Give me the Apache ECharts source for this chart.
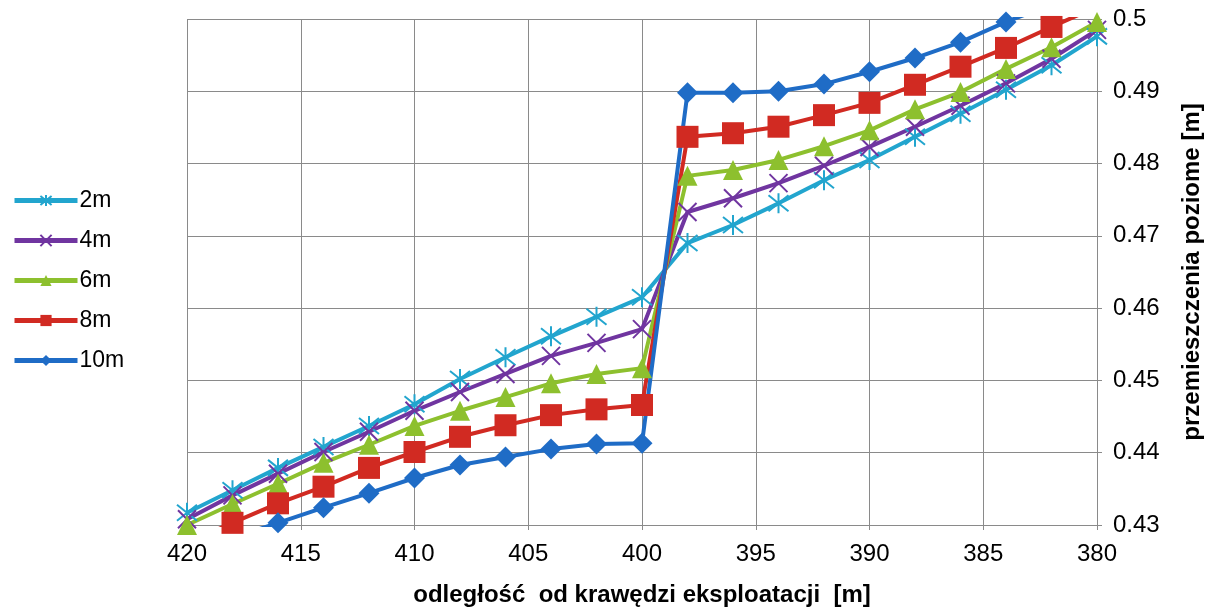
<!DOCTYPE html>
<html>
<head>
<meta charset="utf-8">
<script src="https://cdn.jsdelivr.net/npm/echarts@6/dist/echarts.min.js"></script>
<style>
html,body{margin:0;padding:0;background:#fff;}
#chart{width:1208px;height:607px;}
</style>
</head>
<body>
<div id="chart"></div>
<script>
const xValues = [420,418,416,414,412,410,408,406,404,402,400,398,396,394,392,390,388,386,384,382,380];
const seriesNames = ['2m','4m','6m','8m','10m'];
const s2m  = [0.4317,0.4348,0.4379,0.4408,0.4437,0.4467,0.4502,0.4532,0.4561,0.4588,0.4615,0.4690,0.4715,0.4745,0.4777,0.4805,0.4837,0.4869,0.4902,0.4936,0.4976];
const s4m  = [0.4308,0.4341,0.4371,0.4401,0.4429,0.4458,0.4484,0.4509,0.4534,0.4552,0.4571,0.4733,0.4752,0.4773,0.4797,0.4823,0.4851,0.4880,0.4911,0.4945,0.4985];
const s6m  = [0.4300,0.4329,0.4357,0.4386,0.4411,0.4437,0.4458,0.4477,0.4496,0.4509,0.4517,0.4783,0.4791,0.4805,0.4824,0.4846,0.4875,0.4899,0.4931,0.4961,0.4996];
const s8m  = [0.4275,0.4303,0.4330,0.4353,0.4379,0.4401,0.4422,0.4438,0.4452,0.4460,0.4466,0.4837,0.4842,0.4851,0.4867,0.4884,0.4909,0.4934,0.4960,0.4989,0.5017];
const s10m = [0.4260,0.4282,0.4303,0.4324,0.4344,0.4365,0.4383,0.4394,0.4405,0.4412,0.4413,0.4898,0.4898,0.4900,0.4910,0.4927,0.4946,0.4968,0.4996,0.5020,0.5045];
const yTicks = ['0.43','0.44','0.45','0.46','0.47','0.48','0.49','0.5'];

const colors = ['#22A5CE','#7035A0','#8DC02E','#D12A22','#1F6CC6'];
const symbols = [
  'path://M2,2L18,18M18,2L2,18M10,0L10,20',
  'path://M2,2L18,18M18,2L2,18',
  'triangle',
  'rect',
  'diamond'
];
const sizes = [20, 18, 20, 22, 21];
const allData = [s2m, s4m, s6m, s8m, s10m];

const series = allData.map((vals, i) => ({
  name: seriesNames[i],
  type: 'line',
  data: xValues.map((x, j) => [x, vals[j]]),
  symbol: symbols[i],
  symbolSize: sizes[i],
  showAllSymbol: true,
  clip: true,
  lineStyle: { color: colors[i], width: 4 },
  itemStyle: { color: colors[i], borderColor: colors[i], borderWidth: i < 2 ? 2 : 0 },
  emphasis: { disabled: true },
  animation: false
}));

const chart = echarts.init(document.getElementById('chart'));
chart.setOption({
  backgroundColor: '#fff',
  animation: false,
  textStyle: { fontFamily: "'Liberation Sans', Arial, sans-serif", color: '#000' },
  grid: { left: 187, right: 111, top: 19, bottom: 82, containLabel: false, outerBoundsMode: 'none' },
  legend: {
    orient: 'vertical',
    left: 7,
    top: 184,
    itemWidth: 63,
    itemHeight: 14,
    itemGap: 17,
    lineStyle: { width: 5 },
    textStyle: { fontSize: 23, color: '#000', padding: [0,0,0,-3] },
    data: seriesNames
  },
  xAxis: {
    type: 'value',
    min: 380,
    max: 420,
    interval: 5,
    inverse: true,
    name: 'odległość  od krawędzi eksploatacji  [m]',
    nameLocation: 'middle',
    nameGap: 58,
    nameTextStyle: { fontSize: 24, fontWeight: 'bold', color: '#000' },
    axisLine: { show: true, lineStyle: { color: '#8a8a8a', width: 1 } },
    axisTick: { show: true, length: 5, lineStyle: { color: '#8a8a8a' } },
    axisLabel: { fontSize: 24, color: '#000', margin: 17 },
    splitLine: { show: true, lineStyle: { color: '#8a8a8a', width: 1 } }
  },
  yAxis: {
    type: 'value',
    position: 'right',
    min: 0.43,
    max: 0.5,
    interval: 0.01,
    name: 'przemieszczenia poziome [m]',
    nameLocation: 'middle',
    nameRotate: 90,
    nameGap: 83,
    nameTextStyle: { fontSize: 24, fontWeight: 'bold', color: '#000' },
    axisLine: { show: true, lineStyle: { color: '#8a8a8a', width: 1 } },
    axisTick: { show: true, length: 5, lineStyle: { color: '#8a8a8a' } },
    axisLabel: {
      fontSize: 24, color: '#000', margin: 16,
      formatter: function (v) {
        const idx = Math.round((v - 0.43) / 0.01);
        return yTicks[idx] !== undefined ? yTicks[idx] : String(v);
      }
    },
    splitLine: { show: true, lineStyle: { color: '#8a8a8a', width: 1 } }
  },
  series: series
});
</script>
</body>
</html>
